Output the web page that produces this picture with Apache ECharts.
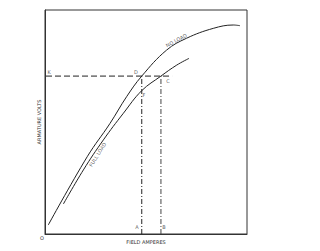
<!DOCTYPE html>
<html><head><meta charset="utf-8">
<script src="https://cdn.jsdelivr.net/npm/echarts@6/dist/echarts.min.js"></script>
<style>html,body{margin:0;padding:0;background:#fff}#c{width:320px;height:251px}</style>
</head><body><div id="c"></div>
<script>
// Field amperes (arbitrary units 0-100) vs armature volts (0-100)
var noLoadX = [1.6, 20.9, 32.2, 40.4, 47.9, 60.2, 70.1, 83.3, 93.2, 96.5];
var noLoadY = [4.0, 34.5, 49.4, 61.3, 70.5, 82.1, 87.4, 91.8, 93.3, 93.0];
var fullLoadX = [9.1, 19.0, 28.9, 38.8, 47.9, 57.4, 65.2, 71.3];
var fullLoadY = [13.4, 28.6, 42.0, 53.9, 64.0, 70.5, 75.4, 78.4];
var refVolts = 70.5;       // line K-D-C
var refLineEnd = 62.9;
var pointA = 47.9;         // field amps at D
var pointB = 57.4;         // field amps at C
var pointLabels = ['K', 'D', 'C', 'F', 'A', 'B'];
var pointLabelX = [2.0, 45.0, 60.9, 49.0, 45.5, 58.9];
var pointLabelY = [72.3, 72.3, 68.3, 62.0, 3.1, 3.1];
var curveNames = ['NO LOAD', 'FULL LOAD'];
var curveNameX = [65.0, 26.0];
var curveNameY = [86.5, 35.5];
var curveNameRot = [28, 58];

function zip(a, b) { return a.map(function (v, i) { return [v, b[i]]; }); }

var chart = echarts.init(document.getElementById('c'), null, { renderer: 'svg' });
var ink = '#222';
var txt = '#333';
var lbl = { show: true, position: 'inside', formatter: '{b}', fontSize: 5, color: txt, fontFamily: 'DejaVu Sans', textBorderWidth: 0 };
chart.setOption({
  animation: false,
  grid: { left: 45, right: 73, top: 10, bottom: 17, show: true, borderColor: '#333', borderWidth: 1 },
  xAxis: {
    type: 'value', min: 0, max: 100, interval: 100,
    name: 'FIELD AMPERES', nameLocation: 'middle', nameGap: 5,
    nameTextStyle: { fontSize: 5, color: txt, fontFamily: 'DejaVu Sans' },
    axisLine: { show: true, lineStyle: { color: '#333', width: 1 } },
    axisTick: { show: false }, axisLabel: { show: false }, splitLine: { show: false }
  },
  yAxis: {
    type: 'value', min: 0, max: 100, interval: 100,
    name: 'ARMATURE VOLTS', nameLocation: 'middle', nameGap: 4,
    nameTextStyle: { fontSize: 5, color: txt, fontFamily: 'DejaVu Sans' },
    axisLine: { show: true, lineStyle: { color: '#333', width: 1 } },
    axisTick: { show: false }, axisLabel: { show: false }, splitLine: { show: false }
  },
  graphic: [{ type: 'text', left: 40, top: 235, style: { text: 'O', fontSize: 5, fill: txt, fontFamily: 'DejaVu Sans' } }],
  series: [
    { type: 'line', data: zip(noLoadX, noLoadY), smooth: 0.4, showSymbol: false, lineStyle: { color: ink, width: 1 } },
    { type: 'line', data: zip(fullLoadX, fullLoadY), smooth: 0.4, showSymbol: false, lineStyle: { color: ink, width: 1 } },
    { type: 'line', data: [[0.5, refVolts], [refLineEnd, refVolts]], showSymbol: false, lineStyle: { color: ink, width: 1, type: [6, 3] } },
    { type: 'line', data: [[pointA, 0], [pointA, refVolts]], showSymbol: false, lineStyle: { color: ink, width: 1, type: [5, 2, 1, 2] } },
    { type: 'line', data: [[pointB, 0], [pointB, refVolts]], showSymbol: false, lineStyle: { color: '#444', width: 1, type: [5, 2, 1, 2] } },
    { type: 'scatter', symbolSize: 0, silent: true, itemStyle: { color: txt },
      data: pointLabels.map(function (t, i) { return { value: [pointLabelX[i], pointLabelY[i]], name: t }; }),
      label: lbl },
    { type: 'scatter', symbolSize: 0, silent: true, itemStyle: { color: txt },
      data: curveNames.map(function (t, i) {
        return { value: [curveNameX[i], curveNameY[i]], name: t,
          label: { show: true, rotate: curveNameRot[i], color: txt, fontSize: 5, fontFamily: 'DejaVu Sans', position: 'inside', formatter: '{b}' } };
      }),
      label: lbl }
  ]
});
</script></body></html>
